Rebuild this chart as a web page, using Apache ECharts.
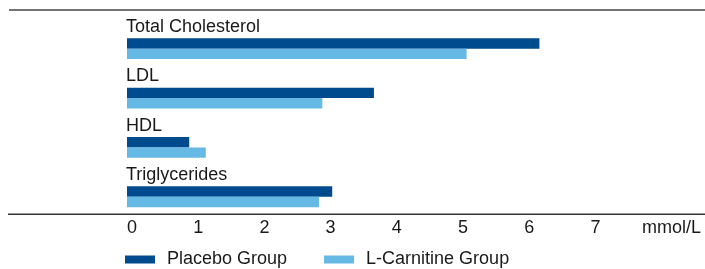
<!DOCTYPE html>
<html>
<head>
<meta charset="utf-8">
<script src="https://cdn.jsdelivr.net/npm/echarts@6/dist/echarts.min.js"></script>
<style>
  html, body { margin: 0; padding: 0; background: #fff; }
  #chart { width: 705px; height: 269px; }
</style>
</head>
<body>
<div id="chart"></div>
<script>
// lipid values, mmol/L
const categories = ['Total Cholesterol', 'LDL', 'HDL', 'Triglycerides'];
const placebo = [6.23, 3.73, 0.94, 3.10];
const carnitine = [5.13, 2.95, 1.19, 2.90];
const xTicks = [0, 1, 2, 3, 4, 5, 6, 7];

const darkBlue = '#004a8e';
const lightBlue = '#66b9e5';
const font = 'Liberation Sans, Arial, sans-serif';

const chart = echarts.init(document.getElementById('chart'));
chart.setOption({
  animation: false,
  textStyle: { fontFamily: font },
  grid: { left: 127, right: 114.6, top: 24, bottom: 47.6 },
  xAxis: {
    type: 'value',
    min: xTicks[0],
    max: xTicks[xTicks.length - 1],
    interval: 1,
    offset: -7.4,
    axisLine: { show: false },
    axisTick: { show: false },
    splitLine: { show: false },
    axisLabel: {
      color: '#1a1a1a', fontSize: 18, align: 'left', margin: 5,
      fontFamily: font
    },
    name: 'mmol/L',
    nameLocation: 'end',
    nameGap: 51.6,
    nameTextStyle: {
      color: '#1a1a1a', fontSize: 18, align: 'left', verticalAlign: 'top',
      padding: [5, 0, 0, 0], fontFamily: font
    }
  },
  yAxis: {
    type: 'category',
    data: categories,
    inverse: true,
    axisLine: { show: false },
    axisTick: { show: false },
    axisLabel: {
      inside: true, margin: -1,
      formatter: '{n|{value}}',
      rich: {
        n: {
          color: '#1a1a1a', fontSize: 18, fontFamily: font,
          verticalAlign: 'bottom', lineHeight: 20, padding: [0, 0, 22.5, 0]
        }
      }
    }
  },
  legend: {
    left: 125, top: 250.5, padding: 0,
    itemWidth: 30, itemHeight: 8, itemGap: 37,
    icon: 'rect',
    textStyle: { color: '#1a1a1a', fontSize: 18, padding: [0, 0, 5, 7], fontFamily: font },
    data: ['Placebo Group', 'L-Carnitine Group']
  },
  graphic: [
    { type: 'line', shape: { x1: 9, y1: 10, x2: 705, y2: 10 }, style: { stroke: '#444', lineWidth: 1.5 } },
    { type: 'line', shape: { x1: 8, y1: 214.3, x2: 705, y2: 214.3 }, style: { stroke: '#333', lineWidth: 1.5 } }
  ],
  series: [
    { name: 'Placebo Group', type: 'bar', data: placebo, barWidth: 10.4, barGap: '0%',
      itemStyle: { color: darkBlue } },
    { name: 'L-Carnitine Group', type: 'bar', data: carnitine, barWidth: 10.4, barGap: '0%',
      itemStyle: { color: lightBlue } }
  ]
});
</script>
</body>
</html>
